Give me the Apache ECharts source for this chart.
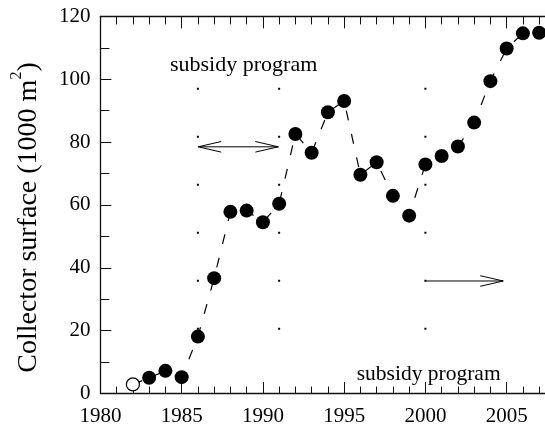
<!DOCTYPE html>
<html>
<head>
<meta charset="utf-8">
<script src="https://cdn.jsdelivr.net/npm/echarts@6/dist/echarts.min.js"></script>
<style>
html,body{margin:0;padding:0;background:#fff;overflow:hidden;}
#chart{width:545px;height:428px;}
</style>
</head>
<body>
<div id="chart"></div>
<script>
// ---- data ----
const years = [1982,1983,1984,1985,1986,1987,1988,1989,1990,1991,1992,1993,1994,1995,1996,1997,1998,1999,2000,2001,2002,2003,2004,2005,2006,2007];
const surface = [2.9,5.0,7.2,5.2,18.1,36.7,57.8,58.2,54.5,60.4,82.6,76.6,89.5,93.1,69.6,73.6,62.9,56.6,72.9,75.6,78.6,86.2,99.4,109.8,114.6,114.8];
const estimatedYears = [1982];           // drawn as open circle
const programYears = [1986, 1991, 2000]; // dotted vertical markers
const programSpan = [97.3, 20.3];        // value range of the dotted markers
// arrows
const arrowStart = [[1986.02, 78.5], [2000.0, 35.8]];
const arrowEnd   = [[1990.95, 78.5], [2004.79, 35.8]];
const arrowDouble = [1, 0];
const noteText = ['subsidy program', 'subsidy program'];
const yTitle = 'Collector surface (1000 m';
const lastLabelYear = 2005;

const FONT = '"Liberation Serif", "Times New Roman", serif';

const lineData = years.map((y, i) => {
  const item = { value: [y, surface[i]] };
  if (estimatedYears.indexOf(y) >= 0) {
    item.itemStyle = { color: '#fff', borderColor: '#000', borderWidth: 1.2 };
    item.symbolSize = 13;
  }
  return item;
});
const arrowData = arrowStart.map((s, i) => [s[0], s[1], arrowEnd[i][0], arrowEnd[i][1], arrowDouble[i]]);
const dotData = programYears.map(y => [y, programSpan[0], programSpan[1]]);

const chart = echarts.init(document.getElementById('chart'), null, { renderer: 'canvas' });

const xCommon = {
  type: 'value', min: 1980, max: 2010, interval: 5,
  axisLine: { show: true, lineStyle: { color: '#111', width: 1.3 } },
  splitLine: { show: false },
  minorSplitLine: { show: false }
};

chart.setOption({
  animation: false,
  backgroundColor: '#fff',
  grid: { left: 100.4, top: 16.4, width: 487.5, height: 377.1, containLabel: false, outerBoundsMode: 'none' },
  xAxis: [
    Object.assign({}, xCommon, {
      position: 'bottom',
      axisTick: { show: true, inside: true, length: 11.5, lineStyle: { color: '#111', width: 1 } },
      minorTick: { show: true, splitNumber: 5, length: 7, lineStyle: { color: '#111', width: 1 } },
      axisLabel: { show: true, margin: 12, color: '#000', fontSize: 21, fontFamily: FONT, showMaxLabel: false,
        formatter: function (v) { return v > lastLabelYear ? '' : String(v); } }
    }),
    Object.assign({}, xCommon, {
      position: 'top',
      axisTick: { show: true, inside: true, length: 12, lineStyle: { color: '#111', width: 1 } },
      minorTick: { show: true, splitNumber: 5, length: 8, lineStyle: { color: '#111', width: 1 } },
      axisLabel: { show: false }
    })
  ],
  yAxis: {
    type: 'value', min: 0, max: 120, interval: 20,
    axisLine: { show: true, lineStyle: { color: '#111', width: 1.3 } },
    axisTick: { show: true, inside: true, length: 11, lineStyle: { color: '#111', width: 1 } },
    minorTick: { show: true, splitNumber: 2, length: 9, lineStyle: { color: '#111', width: 1 } },
    splitLine: { show: false },
    axisLabel: { margin: 10, color: '#000', fontSize: 21, fontFamily: FONT }
  },
  graphic: [
    {
      type: 'text', x: 28.5, y: 217.5, rotation: Math.PI / 2,
      style: {
        text: '{n|' + yTitle + '}{s|2}{n|)}',
        align: 'center', verticalAlign: 'middle', fill: '#000',
        rich: {
          n: { fontSize: 28, fontFamily: FONT, lineHeight: 40, fill: '#000' },
          s: { fontSize: 16, fontFamily: FONT, lineHeight: 10, verticalAlign: 'top', fill: '#000' }
        }
      }
    },
    {
      type: 'text', x: 170, y: 65.1,
      style: { text: noteText[0], fontSize: 22, fontFamily: FONT, fill: '#000', align: 'left', verticalAlign: 'middle' }
    },
    {
      type: 'text', x: 356.7, y: 374.7,
      style: { text: noteText[1], fontSize: 21.5, fontFamily: FONT, fill: '#000', align: 'left', verticalAlign: 'middle' }
    }
  ],
  series: [
    {
      type: 'custom', silent: true, z: 1,
      encode: { x: 0, y: [1, 2] },
      data: dotData,
      renderItem: function (params, api) {
        const p1 = api.coord([api.value(0), api.value(1)]);
        const p2 = api.coord([api.value(0), api.value(2)]);
        return {
          type: 'line',
          shape: { x1: p1[0], y1: p1[1], x2: p2[0], y2: p2[1] },
          style: { stroke: '#000', lineWidth: 2, lineDash: [2, 46], fill: null }
        };
      }
    },
    {
      type: 'custom', silent: true, z: 1,
      encode: { x: [0, 2], y: [1, 3] },
      data: arrowData,
      renderItem: function (params, api) {
        const a = api.coord([api.value(0), api.value(1)]);
        const b = api.coord([api.value(2), api.value(3)]);
        const L = 23, W = 5.3;
        const st = { stroke: '#000', lineWidth: 1, fill: null };
        const children = [
          { type: 'line', shape: { x1: a[0], y1: a[1], x2: b[0], y2: b[1] }, style: st },
          { type: 'polyline', shape: { points: [[b[0] - L, b[1] - W], [b[0], b[1]], [b[0] - L, b[1] + W]] }, style: st }
        ];
        if (api.value(4)) {
          children.push({ type: 'polyline', shape: { points: [[a[0] + L, a[1] - W], [a[0], a[1]], [a[0] + L, a[1] + W]] }, style: st });
        }
        return { type: 'group', children: children };
      }
    },
    {
      type: 'line', z: 3,
      data: lineData,
      symbol: 'circle', symbolSize: 14, showSymbol: true,
      itemStyle: { color: '#000' },
      lineStyle: { color: '#000', width: 1.2, type: [10, 14] },
      emphasis: { disabled: true },
      silent: true
    }
  ]
});
</script>
</body>
</html>
